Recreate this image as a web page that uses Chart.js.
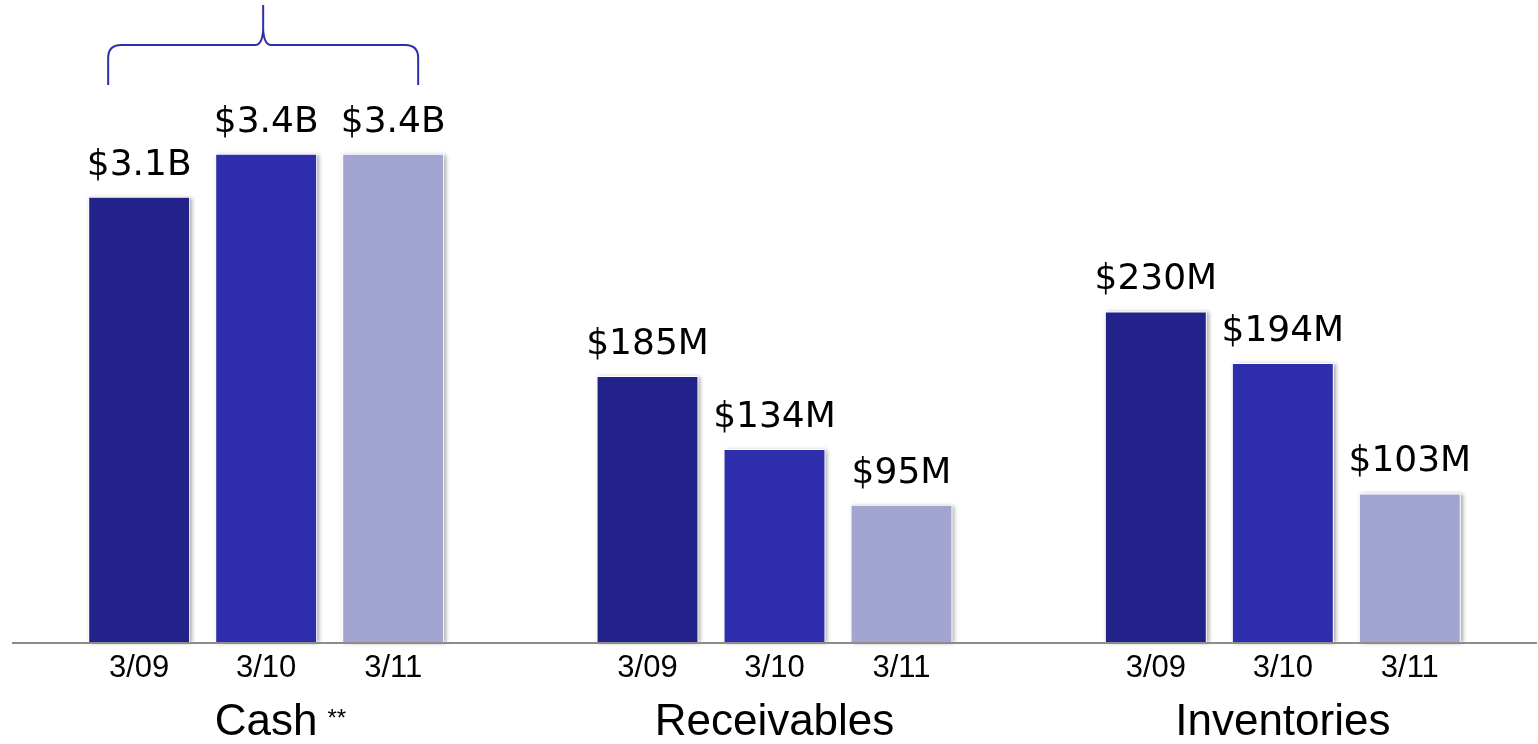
<!DOCTYPE html>
<html lang="en">
<head>
    <meta charset="UTF-8">
    <title>Cash, Receivables, Inventories</title>
    <script src="https://cdn.jsdelivr.net/npm/chart.js"></script>
    <style>
        html, body { margin: 0; padding: 0; background: #fff; overflow: hidden; }
        canvas { display: block; }
    </style>
</head>
<body>
    <canvas id="chart" width="1538" height="744"></canvas>
    <script>
        // Categories and dates
        const groups = ["Cash", "Receivables", "Inventories"];
        const dates = ["3/09", "3/10", "3/11"];

        // Values in $M, one array per date
        const mar09 = [3100, 185, 230];
        const mar10 = [3400, 134, 194];
        const mar11 = [3400, 95, 103];

        // Cash bars are drawn on a 1/10 scale in the original
        const groupScale = [0.1, 1, 1];
        const colors = ["#22228a", "#2e2ead", "#a3a5d1"];

        function money(v) {
            return v >= 1000 ? "$" + (v / 1000).toFixed(1) + "B" : "$" + v + "M";
        }

        const series = [mar09, mar10, mar11];

        const decor = {
            id: "decor",
            beforeDatasetsDraw(chart) {
                const ctx = chart.ctx;
                ctx.save();
                ctx.shadowColor = "rgba(0,0,0,0.35)";
                ctx.shadowBlur = 4;
                ctx.shadowOffsetX = 2;
                ctx.shadowOffsetY = 1;
                ctx.fillStyle = "#fff";
                chart.data.datasets.forEach((ds, i) => {
                    chart.getDatasetMeta(i).data.forEach((bar) => {
                        ctx.fillRect(bar.x - bar.width / 2 - 1, bar.y - 1, bar.width + 2, bar.base - bar.y + 1);
                    });
                });
                ctx.restore();
            },
            afterDatasetsDraw(chart) {
                const ctx = chart.ctx;
                const area = chart.chartArea;
                ctx.save();

                // baseline
                ctx.strokeStyle = "#8c8c8c";
                ctx.lineWidth = 2;
                ctx.beginPath();
                ctx.moveTo(area.left, area.bottom + 1);
                ctx.lineTo(area.right, area.bottom + 1);
                ctx.stroke();

                // value labels and date labels
                ctx.textAlign = "center";
                ctx.textBaseline = "alphabetic";
                chart.data.datasets.forEach((ds, i) => {
                    chart.getDatasetMeta(i).data.forEach((bar, j) => {
                        ctx.fillStyle = "#000";
                        ctx.font = "36px 'DejaVu Sans'";
                        ctx.fillText(money(series[i][j]), bar.x, bar.y - 23);
                        ctx.font = "31px 'Liberation Sans'";
                        ctx.fillText(dates[i], bar.x, area.bottom + 35);
                    });
                });

                // group names
                const xs = chart.scales.x;
                ctx.font = "44px 'Liberation Sans'";
                groups.forEach((g, k) => {
                    ctx.fillText(g, xs.getPixelForValue(k), 735);
                });
                const cashW = ctx.measureText(groups[0]).width;
                ctx.font = "24px 'Liberation Sans'";
                ctx.textAlign = "left";
                ctx.fillText("**", xs.getPixelForValue(0) + cashW / 2 + 10, 726);

                // brace over the cash group
                const cx = xs.getPixelForValue(0) - 3;
                const L = cx - 155, R = cx + 155;
                ctx.strokeStyle = "#2e2ead";
                ctx.lineWidth = 2;
                ctx.beginPath();
                ctx.moveTo(L, 85);
                ctx.lineTo(L, 58);
                ctx.quadraticCurveTo(L, 45, L + 13, 45);
                ctx.lineTo(cx - 8, 45);
                ctx.quadraticCurveTo(cx - 1, 45, cx, 30);
                ctx.lineTo(cx, 5);
                ctx.moveTo(cx, 30);
                ctx.quadraticCurveTo(cx + 1, 45, cx + 8, 45);
                ctx.lineTo(R - 13, 45);
                ctx.quadraticCurveTo(R, 45, R, 58);
                ctx.lineTo(R, 85);
                ctx.stroke();

                ctx.restore();
            }
        };

        new Chart(document.getElementById("chart"), {
            type: "bar",
            data: {
                labels: groups,
                datasets: dates.map((d, i) => ({
                    label: d,
                    data: series[i].map((v, k) => v * groupScale[k]),
                    backgroundColor: colors[i],
                    borderWidth: 0,
                    barPercentage: 0.787,
                    categoryPercentage: 0.7495
                }))
            },
            options: {
                responsive: false,
                animation: false,
                devicePixelRatio: 1,
                layout: { padding: { left: 12, right: 1, top: 0, bottom: 102 } },
                plugins: { legend: { display: false }, tooltip: { enabled: false } },
                scales: {
                    x: { display: false },
                    y: { display: false, min: 0, max: 448 }
                }
            },
            plugins: [decor]
        });
    </script>
</body>
</html>
